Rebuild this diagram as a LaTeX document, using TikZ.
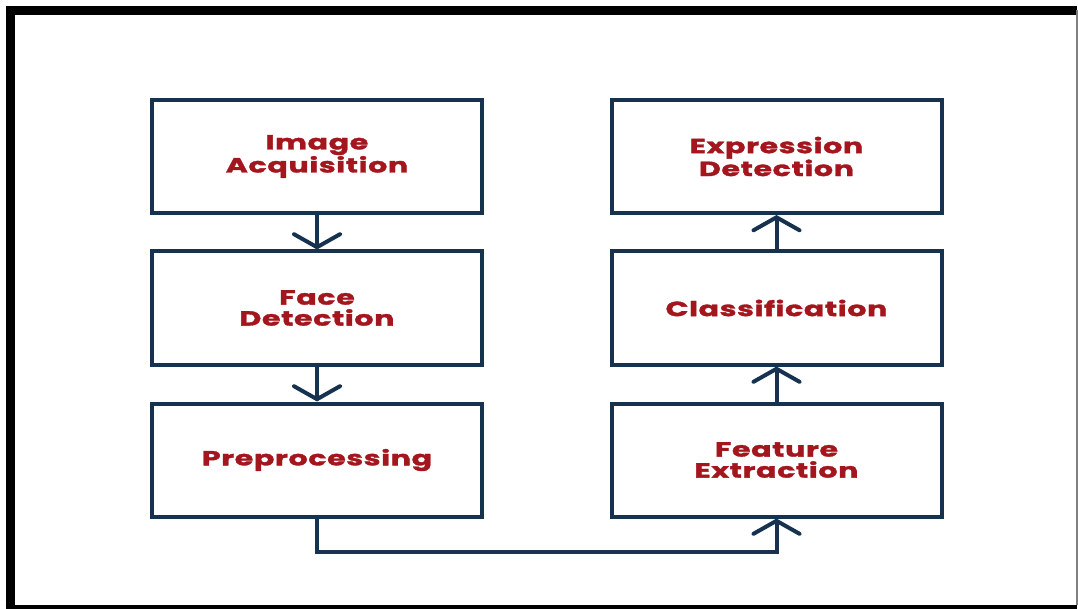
\documentclass[tikz,border=0pt]{standalone}
\usepackage{fontspec}
\setmainfont{Poppins}[BoldFont=* Bold]
\newfontfamily\stagefont{Poppins}[UprightFont=* Bold,FakeStretch=1.47,LetterSpace=3,FakeBold=1.6]
\usetikzlibrary{arrows.meta}
\definecolor{navy}{HTML}{16324F}
\definecolor{darkred}{HTML}{A3161E}
\begin{document}
\begin{tikzpicture}[x=1pt,y=-1pt,
	stage/.style={draw=navy,line width=4pt,minimum width=330pt,minimum height=113pt,inner sep=0pt,
		align=center,text=darkred,font=\stagefont\fontsize{20.5}{21}\selectfont},
	flow/.style={draw=navy,line width=4pt,-{Straight Barb[length=13pt,width=46pt,line cap=round]}}]
	\useasboundingbox (0,0) rectangle (1078,609);
	% frame
	\draw [black,line width=9pt] (10,607) -- (10,10.5) -- (1077,10.5);
	\draw [black,line width=5pt] (5.5,607) -- (1077,607);
	\draw [gray,line width=1.5pt] (1077,10) -- (1077,605);
	% left column
	\node [stage] (acq) at (317,156.5) {Image\\Acquisition};
	\node [stage] (face) at (317,308) {Face\\Detection};
	\node [stage] (pre) at (317,460) {Preprocessing};
	% right column
	\node [stage] (feat) at (776.5,460) {Feature\\Extraction};
	\node [stage] (cls) at (776.5,308) {Classification};
	\node [stage] (expr) at (776.5,156.5) {Expression\\Detection};
	% connectors
	\draw [flow] (acq) -- (face);
	\draw [flow] (face) -- (pre);
	\draw [flow] (pre.south) -- ++(0,33) -| (feat.south);
	\draw [flow] (feat) -- (cls);
	\draw [flow] (cls) -- (expr);
\end{tikzpicture}
\end{document}
